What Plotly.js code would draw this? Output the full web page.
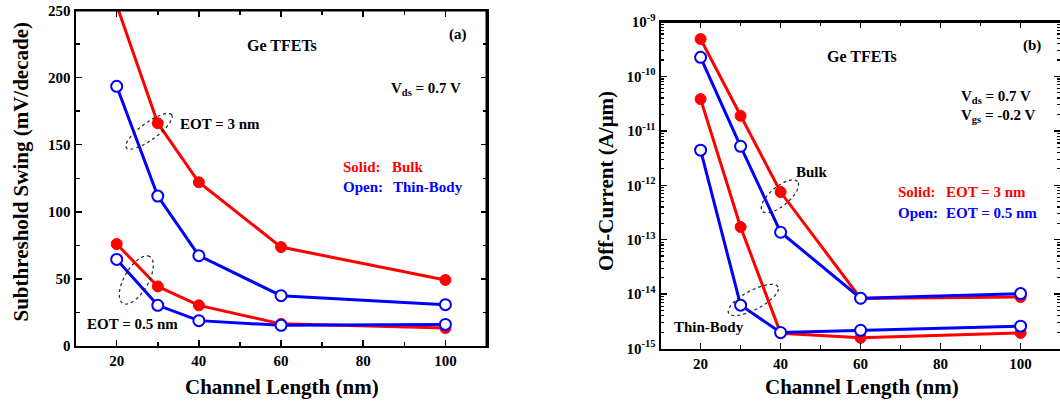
<!DOCTYPE html>
<html><head><meta charset="utf-8">
<script src="https://cdn.plot.ly/plotly-3.0.1.min.js"></script>
<style>html,body{margin:0;padding:0;background:#fff}#chart{width:1060px;height:404px}</style>
</head><body><div id="chart"></div>
<script>
// ---- data ----
const channelLength = [20, 30, 40, 60, 100];
// (a) Subthreshold swing (mV/decade)
const ssBulkEot3   = [254, 166, 122, 73.7, 49.2];
const ssThinEot3   = [193.5, 111.7, 67.3, 37.5, 30.8];
const ssBulkEot05  = [76, 44.4, 30.3, 16.5, 13.4];
const ssThinEot05  = [64.5, 30.3, 18.9, 15.4, 16.1];
// (b) Off-current (A/um)
const ioffBulkEot3  = [4.86e-10, 1.89e-11, 7.5e-13, 8.3e-15, 8.8e-15];
const ioffBulkEot05 = [2.24e-10, 5.2e-12, 1.37e-13, 8.4e-15, 1.02e-14];
const ioffThinEot3  = [3.83e-11, 1.71e-13, 1.9e-15, 1.57e-15, 1.93e-15];
const ioffThinEot05 = [4.41e-12, 6.25e-15, 1.97e-15, 2.16e-15, 2.57e-15];
// ticks
const xTicks = [20, 40, 60, 80, 100];
const ssTicks = [0, 50, 100, 150, 200, 250];
const ioffTicks = [1e-15, 1e-14, 1e-13, 1e-12, 1e-11, 1e-10, 1e-9];
const ioffTickText = ['10<sup>-15</sup>','10<sup>-14</sup>','10<sup>-13</sup>','10<sup>-12</sup>','10<sup>-11</sup>','10<sup>-10</sup>','10<sup>-9</sup>'];

// ---- helpers ----
const W = 1060, H = 404;
const px = x => x / W, py = y => 1 - y / H;
const FONT = '"Liberation Serif", "Times New Roman", serif';
const RED = '#ff0000', BLUE = '#0000ff';

function solid(x, y, color, xa, ya) {
  return {x, y, xaxis: xa, yaxis: ya, type: 'scatter', mode: 'lines+markers',
    line: {color, width: 3}, marker: {symbol: 'circle', size: 11, color, line: {color, width: 1}},
    showlegend: false, hoverinfo: 'skip'};
}
function open(x, y, color, xa, ya) {
  return {x, y, xaxis: xa, yaxis: ya, type: 'scatter', mode: 'lines+markers',
    line: {color, width: 3}, marker: {symbol: 'circle', size: 11, color: '#ffffff', line: {color, width: 2}},
    showlegend: false, hoverinfo: 'skip'};
}

const traces = [
  solid(channelLength, ssBulkEot3, RED, 'x', 'y'),
  solid(channelLength, ssBulkEot05, RED, 'x', 'y'),
  open(channelLength, ssThinEot3, BLUE, 'x', 'y'),
  open(channelLength, ssThinEot05, BLUE, 'x', 'y'),
  solid(channelLength, ioffBulkEot3, RED, 'x2', 'y2'),
  solid(channelLength, ioffThinEot3, RED, 'x2', 'y2'),
  open(channelLength, ioffBulkEot05, BLUE, 'x2', 'y2'),
  open(channelLength, ioffThinEot05, BLUE, 'x2', 'y2')
];

const tickFont = {family: FONT, size: 15, color: '#000', weight: 'bold'};
function xAxis(domain, range, anchor) {
  return {domain, range, anchor, tickmode: 'array', tickvals: xTicks,
    ticks: 'inside', ticklen: 6, tickwidth: 1.5, tickcolor: '#000',
    minor: {dtick: 10, tick0: 0, ticks: 'inside', ticklen: 4, tickwidth: 1.5, tickcolor: '#000', showgrid: false},
    showline: true, linewidth: 2, linecolor: '#000', mirror: 'ticks',
    showgrid: false, zeroline: false, tickfont: tickFont, fixedrange: true};
}

const layout = {
  width: W, height: H,
  margin: {l: 0, r: 0, t: 0, b: 0},
  paper_bgcolor: '#fff', plot_bgcolor: '#fff',
  showlegend: false,
  font: {family: FONT, color: '#000', size: 15},
  xaxis: xAxis([75.6 / W, 486.5 / W], [10, 110], 'y'),
  yaxis: {domain: [py(346), py(10.5)], range: [0, 250], anchor: 'x', tickmode: 'array', tickvals: ssTicks,
    ticks: 'inside', ticklen: 6, tickwidth: 1.5, tickcolor: '#000',
    minor: {dtick: 25, tick0: 0, ticks: 'inside', ticklen: 4, tickwidth: 1.5, tickcolor: '#000', showgrid: false},
    showline: true, linewidth: 2, linecolor: '#000', mirror: 'ticks',
    showgrid: false, zeroline: false, tickfont: tickFont, fixedrange: true},
  xaxis2: xAxis([660.6 / W, 1], [10, 109.85], 'y2'),
  yaxis2: {domain: [py(348.5), py(22)], type: 'log', range: [-15, -9], anchor: 'x2',
    tickmode: 'array', tickvals: ioffTicks, ticktext: ioffTickText,
    ticks: 'inside', ticklen: 6, tickwidth: 1.5, tickcolor: '#000',
    minor: {dtick: 'D1', ticks: 'inside', ticklen: 3, tickwidth: 1.2, tickcolor: '#000', showgrid: false},
    showline: true, linewidth: 2, linecolor: '#000', mirror: 'ticks',
    showgrid: false, zeroline: false, tickfont: tickFont, fixedrange: true},
  shapes: [],
  annotations: []
};

// frame lines
function hline(x0, x1, y) {
  layout.shapes.push({type: 'line', xref: 'paper', yref: 'paper', x0: px(x0), x1: px(x1), y0: py(y), y1: py(y),
    line: {color: '#000', width: 2}});
}
function vline(x, y0, y1) {
  layout.shapes.push({type: 'line', xref: 'paper', yref: 'paper', x0: px(x), x1: px(x), y0: py(y0), y1: py(y1),
    line: {color: '#000', width: 2}});
}
hline(75.6, 486.5, 10.5); vline(486.5, 10.5, 346);
hline(660.6, 1060, 22);

// dotted ellipses
function ellipse(cx, cy, a, b, deg) {
  const th = deg * Math.PI / 180;
  let d = '';
  for (let i = 0; i <= 72; i++) {
    const t = i / 72 * 2 * Math.PI;
    const x = cx + a * Math.cos(t) * Math.cos(th) - b * Math.sin(t) * Math.sin(th);
    const y = cy - (a * Math.cos(t) * Math.sin(th) + b * Math.sin(t) * Math.cos(th));
    d += (i === 0 ? 'M' : 'L') + px(x).toFixed(5) + ',' + py(y).toFixed(5);
  }
  layout.shapes.push({type: 'path', xref: 'paper', yref: 'paper', path: d + 'Z',
    line: {color: '#222', width: 1.2, dash: 'dot'}, fillcolor: 'rgba(0,0,0,0)'});
}
ellipse(149, 131.3, 28, 8.5, 36);
ellipse(136.3, 280, 27, 12, 60);
ellipse(779.9, 196.3, 23, 9.5, 40);
ellipse(753.3, 300, 28, 9.5, 28);

function ann(text, x, y, size, color, opts) {
  layout.annotations.push(Object.assign({text: '<b>' + text + '</b>', xref: 'paper', yref: 'paper', x: px(x), y: py(y),
    xanchor: 'center', yanchor: 'middle', showarrow: false,
    font: {family: FONT, size: size, color: color}}, opts || {}));
}
const K = '#000';
// panel (a)
ann('Subthreshold Swing (mV/decade)', 20.5, 172, 21, K, {textangle: -90});
ann('Channel Length (nm)', 282, 387, 21, K);
ann('Ge TFETs', 282.3, 45.7, 16, K);
ann('(a)', 457.5, 34.3, 15, K);
ann('V<sub>ds</sub> = 0.7 V', 389.3, 89.3, 15, K, {xanchor: 'left'});
ann('EOT = 3 nm', 219.5, 124.3, 15, K);
ann('Solid:', 341, 166.7, 15, RED, {xanchor: 'left'});
ann('Bulk', 390, 166.7, 15, RED, {xanchor: 'left'});
ann('Open:', 341, 187.3, 15, BLUE, {xanchor: 'left'});
ann('Thin-Body', 390.5, 187.3, 15, BLUE, {xanchor: 'left'});
ann('EOT = 0.5 nm', 132.3, 324.3, 15, K);
// panel (b)
ann('Off-Current (A/\u03bcm)', 606, 181, 21, K, {textangle: -90});
ann('Channel Length (nm)', 861.6, 387, 21, K);
ann('Ge TFETs', 861.6, 56.7, 16, K);
ann('(b)', 1031.7, 45.7, 15, K);
ann('V<sub>ds</sub> = 0.7 V', 959, 96.7, 15, K, {xanchor: 'left'});
ann('V<sub>gs</sub> = -0.2 V', 959, 116, 15, K, {xanchor: 'left'});
ann('Bulk', 811.8, 171.7, 15, K);
ann('Solid:', 895.7, 192.3, 15, RED, {xanchor: 'left'});
ann('EOT = 3 nm', 944, 192.3, 15, RED, {xanchor: 'left'});
ann('Open:', 895.7, 212.7, 15, BLUE, {xanchor: 'left'});
ann('EOT = 0.5 nm', 944, 212.7, 15, BLUE, {xanchor: 'left'});
ann('Thin-Body', 709, 326.7, 15, K);

Plotly.newPlot('chart', traces, layout, {staticPlot: true, displayModeBar: false});
</script>
</body></html>
